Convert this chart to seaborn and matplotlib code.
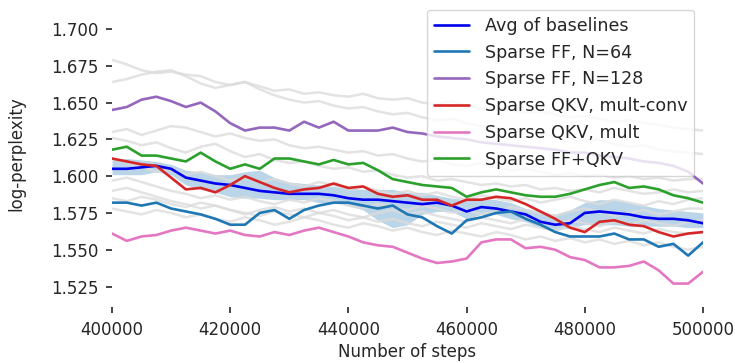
import numpy as np
import pandas as pd
import matplotlib
matplotlib.use("Agg")
import matplotlib.pyplot as plt
import seaborn as sns

steps = np.arange(400000, 500001, 2500)

avg_baselines = [1.605, 1.605, 1.606, 1.607, 1.605, 1.599, 1.597, 1.595, 1.594, 1.592, 1.590,
                 1.589, 1.588, 1.588, 1.588, 1.587, 1.585, 1.584, 1.584, 1.583, 1.582, 1.581,
                 1.582, 1.580, 1.576, 1.579, 1.578, 1.576, 1.574, 1.569, 1.567, 1.568, 1.575,
                 1.576, 1.575, 1.574, 1.572, 1.571, 1.571, 1.570, 1.568]
band_upper = [1.611, 1.612, 1.611, 1.610, 1.608, 1.604, 1.603, 1.601, 1.601, 1.603, 1.604,
              1.599, 1.596, 1.595, 1.594, 1.593, 1.592, 1.591, 1.591, 1.591, 1.589, 1.589,
              1.587, 1.585, 1.584, 1.585, 1.584, 1.582, 1.578, 1.576, 1.574, 1.577, 1.582,
              1.584, 1.584, 1.582, 1.580, 1.578, 1.577, 1.576, 1.575]
band_lower = [1.601, 1.601, 1.601, 1.603, 1.601, 1.594, 1.591, 1.589, 1.586, 1.585, 1.585,
              1.584, 1.584, 1.584, 1.582, 1.582, 1.580, 1.577, 1.570, 1.565, 1.567, 1.574,
              1.576, 1.576, 1.571, 1.574, 1.574, 1.571, 1.569, 1.565, 1.563, 1.565, 1.567,
              1.567, 1.567, 1.566, 1.566, 1.566, 1.566, 1.565, 1.565]
sparse_ff_64 = [1.582, 1.582, 1.580, 1.582, 1.578, 1.576, 1.574, 1.571, 1.567, 1.567, 1.575,
                1.577, 1.571, 1.577, 1.580, 1.582, 1.582, 1.580, 1.578, 1.580, 1.574, 1.572,
                1.566, 1.561, 1.570, 1.572, 1.575, 1.576, 1.571, 1.567, 1.562, 1.559, 1.559,
                1.559, 1.561, 1.557, 1.557, 1.552, 1.554, 1.546, 1.555]
sparse_ff_128 = [1.645, 1.647, 1.652, 1.654, 1.651, 1.647, 1.650, 1.644, 1.636, 1.631, 1.633,
                 1.633, 1.631, 1.637, 1.633, 1.637, 1.631, 1.631, 1.631, 1.633, 1.630, 1.629,
                 1.627, 1.626, 1.625, 1.623, 1.622, 1.621, 1.620, 1.619, 1.618, 1.616, 1.616,
                 1.614, 1.613, 1.612, 1.610, 1.609, 1.607, 1.603, 1.595]
sparse_qkv_conv = [1.612, 1.610, 1.608, 1.607, 1.599, 1.591, 1.592, 1.589, 1.594, 1.600, 1.596,
                   1.592, 1.589, 1.591, 1.592, 1.595, 1.592, 1.593, 1.588, 1.586, 1.587, 1.584,
                   1.584, 1.580, 1.584, 1.584, 1.586, 1.585, 1.581, 1.576, 1.571, 1.565, 1.562,
                   1.569, 1.570, 1.567, 1.566, 1.562, 1.559, 1.561, 1.562]
sparse_qkv_mult = [1.561, 1.556, 1.559, 1.560, 1.563, 1.565, 1.563, 1.561, 1.563, 1.560, 1.559,
                   1.562, 1.560, 1.563, 1.565, 1.562, 1.559, 1.555, 1.553, 1.552, 1.548, 1.544,
                   1.541, 1.542, 1.544, 1.555, 1.557, 1.557, 1.551, 1.552, 1.550, 1.545, 1.543,
                   1.538, 1.538, 1.539, 1.542, 1.536, 1.527, 1.527, 1.535]
sparse_ff_qkv = [1.618, 1.620, 1.614, 1.614, 1.612, 1.610, 1.616, 1.610, 1.605, 1.608, 1.605,
                 1.612, 1.612, 1.610, 1.608, 1.611, 1.608, 1.609, 1.604, 1.598, 1.596, 1.594,
                 1.593, 1.592, 1.586, 1.589, 1.591, 1.589, 1.587, 1.586, 1.586, 1.588, 1.591,
                 1.594, 1.596, 1.592, 1.593, 1.591, 1.587, 1.585, 1.582]

# individual baseline runs (light grey)
baselines = [
    [1.679, 1.676, 1.672, 1.670, 1.671, 1.669, 1.668, 1.664, 1.662, 1.664, 1.661, 1.658, 1.659, 1.656,
     1.657, 1.655, 1.654, 1.656, 1.653, 1.652, 1.653, 1.650, 1.649, 1.651, 1.648, 1.646, 1.647, 1.645,
     1.643, 1.644, 1.642, 1.640, 1.641, 1.639, 1.637, 1.638, 1.636, 1.635, 1.633, 1.632, 1.631],
    [1.664, 1.666, 1.669, 1.671, 1.672, 1.668, 1.663, 1.660, 1.662, 1.664, 1.659, 1.655, 1.652, 1.650,
     1.651, 1.648, 1.646, 1.647, 1.644, 1.642, 1.643, 1.640, 1.638, 1.639, 1.636, 1.634, 1.633, 1.631,
     1.632, 1.629, 1.627, 1.626, 1.624, 1.625, 1.622, 1.620, 1.621, 1.618, 1.617, 1.616, 1.615],
    [1.630, 1.632, 1.628, 1.631, 1.634, 1.633, 1.630, 1.627, 1.629, 1.626, 1.624, 1.625, 1.621, 1.619,
     1.620, 1.618, 1.616, 1.617, 1.614, 1.615, 1.612, 1.610, 1.611, 1.608, 1.607, 1.609, 1.606, 1.604,
     1.605, 1.603, 1.601, 1.602, 1.600, 1.601, 1.599, 1.600, 1.598, 1.599, 1.597, 1.598, 1.598],
    [1.626, 1.624, 1.621, 1.623, 1.619, 1.616, 1.620, 1.622, 1.617, 1.613, 1.615, 1.611, 1.609, 1.610,
     1.607, 1.605, 1.606, 1.603, 1.604, 1.601, 1.599, 1.600, 1.597, 1.598, 1.596, 1.594, 1.595, 1.593,
     1.594, 1.591, 1.592, 1.590, 1.591, 1.589, 1.592, 1.590, 1.588, 1.589, 1.591, 1.589, 1.590],
    [1.612, 1.609, 1.606, 1.603, 1.605, 1.601, 1.603, 1.600, 1.597, 1.599, 1.596, 1.598, 1.595, 1.593,
     1.596, 1.594, 1.591, 1.593, 1.590, 1.588, 1.590, 1.587, 1.589, 1.586, 1.584, 1.587, 1.585, 1.583,
     1.585, 1.582, 1.584, 1.586, 1.583, 1.581, 1.584, 1.582, 1.580, 1.583, 1.581, 1.584, 1.585],
    [1.597, 1.599, 1.596, 1.593, 1.590, 1.588, 1.585, 1.587, 1.584, 1.586, 1.583, 1.581, 1.584, 1.582,
     1.585, 1.583, 1.580, 1.578, 1.581, 1.579, 1.577, 1.580, 1.578, 1.575, 1.577, 1.574, 1.576, 1.579,
     1.577, 1.575, 1.573, 1.576, 1.578, 1.576, 1.573, 1.575, 1.577, 1.574, 1.576, 1.578, 1.578],
    [1.590, 1.592, 1.589, 1.586, 1.583, 1.581, 1.578, 1.580, 1.577, 1.574, 1.577, 1.579, 1.576, 1.578,
     1.575, 1.577, 1.574, 1.572, 1.575, 1.577, 1.574, 1.576, 1.573, 1.571, 1.569, 1.572, 1.570, 1.568,
     1.571, 1.569, 1.567, 1.570, 1.568, 1.566, 1.569, 1.567, 1.570, 1.568, 1.566, 1.569, 1.570],
    [1.585, 1.583, 1.586, 1.584, 1.581, 1.579, 1.582, 1.580, 1.577, 1.575, 1.573, 1.576, 1.574, 1.572,
     1.575, 1.573, 1.570, 1.572, 1.569, 1.571, 1.568, 1.566, 1.569, 1.567, 1.565, 1.568, 1.566, 1.564,
     1.567, 1.565, 1.563, 1.566, 1.564, 1.562, 1.565, 1.563, 1.561, 1.564, 1.562, 1.561, 1.562],
    [1.578, 1.576, 1.574, 1.577, 1.575, 1.572, 1.574, 1.571, 1.569, 1.572, 1.570, 1.567, 1.569, 1.572,
     1.570, 1.567, 1.565, 1.568, 1.566, 1.563, 1.565, 1.562, 1.560, 1.563, 1.561, 1.559, 1.562, 1.560,
     1.557, 1.559, 1.556, 1.558, 1.555, 1.557, 1.554, 1.556, 1.553, 1.555, 1.552, 1.550, 1.552],
]

series = [
    ("Avg of baselines", avg_baselines, "#0000ee"),
    ("Sparse FF, N=64", sparse_ff_64, "#1f77b4"),
    ("Sparse FF, N=128", sparse_ff_128, "#9467bd"),
    ("Sparse QKV, mult-conv", sparse_qkv_conv, "#d62728"),
    ("Sparse QKV, mult", sparse_qkv_mult, "#e377c2"),
    ("Sparse FF+QKV", sparse_ff_qkv, "#2ca02c"),
]

sns.set_theme(style="white", font_scale=1.0)
plt.rcParams['font.family'] = ['DejaVu Sans']
plt.rcParams['font.size'] = 12

fig = plt.figure(figsize=(7.35, 3.63), dpi=100)
ax = fig.add_axes([0.1524, 0.154, 0.804, 0.843])

for run in baselines:
    sns.lineplot(x=steps, y=run, ax=ax, color="#dcdcdc", lw=1.8, alpha=0.8, legend=False)

ax.fill_between(steps, band_lower, band_upper, color="#1f77b4", alpha=0.3, lw=0)

for name, vals, col in series:
    sns.lineplot(x=steps, y=vals, ax=ax, color=col, lw=1.9, label=name)

ax.set_xlim(400000, 500000)
ax.set_ylim(1.511, 1.719)
ax.set_yticks([1.525, 1.55, 1.575, 1.6, 1.625, 1.65, 1.675, 1.7])
ax.set_xticks([400000, 420000, 440000, 460000, 480000, 500000])
ax.yaxis.set_major_formatter(matplotlib.ticker.FormatStrFormatter('%.3f'))
ax.tick_params(axis='both', which='major', labelsize=12, length=4, width=1.2,
               color='#262626', labelcolor='#262626', left=True, bottom=True, pad=6)
sns.despine(ax=ax, left=True, bottom=True)

ax.set_xlabel("Number of steps", fontsize=12, color='#262626', labelpad=3)
ax.set_ylabel("log-perplexity", fontsize=12, color='#262626', labelpad=18)

leg = ax.legend(loc="upper right", fontsize=12.6, frameon=True, framealpha=0.8,
                edgecolor='#cccccc', labelspacing=0.5, handletextpad=0.9)

fig.savefig("out.png", dpi=100)
